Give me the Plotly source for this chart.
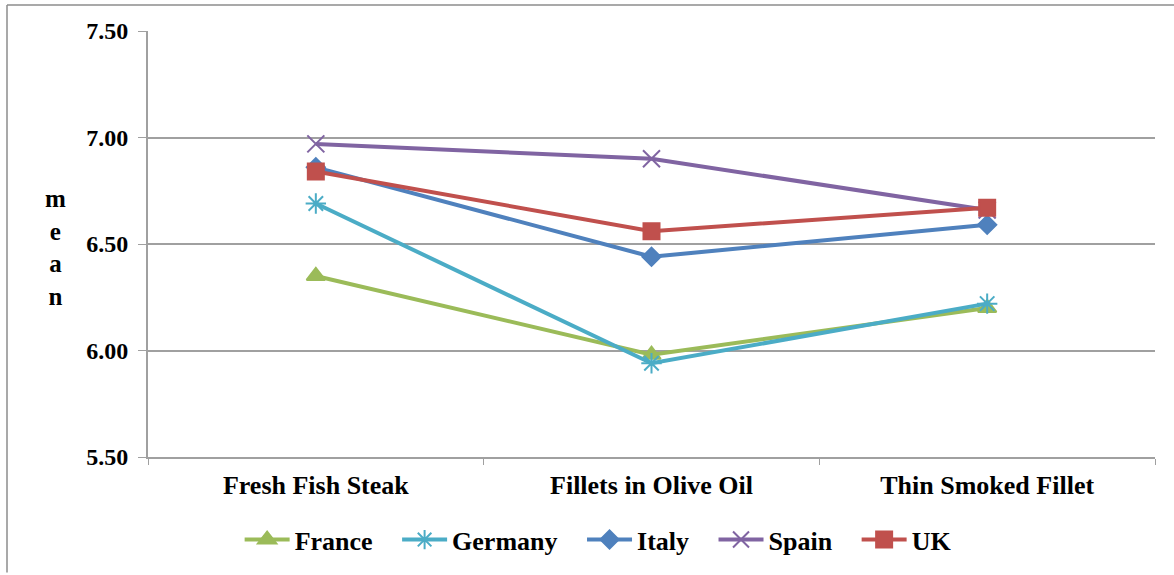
import plotly.graph_objects as go

categories = ["Fresh Fish Steak", "Fillets in Olive Oil", "Thin Smoked Fillet"]
countries = ["France", "Germany", "Italy", "Spain", "UK"]
france = [6.35, 5.98, 6.20]
germany = [6.69, 5.94, 6.22]
italy = [6.86, 6.44, 6.59]
spain = [6.97, 6.90, 6.66]
uk = [6.84, 6.56, 6.67]
y_ticks = [5.5, 6.0, 6.5, 7.0, 7.5]

series = [france, germany, italy, spain, uk]
colors = ["#9BBB59", "#4BACC6", "#4F81BD", "#8064A2", "#C0504D"]
symbols = ["triangle-up", "asterisk-open", "diamond", "x-thin-open", "square"]
sizes = [16, 17, 14, 17, 16]

FONT = "Times New Roman, Liberation Serif, DejaVu Serif, serif"
PAD = "\u00a0\u00a0\u00a0"  # extra spacing between legend entries

fig = go.Figure()
for i, (name, vals, c, s, sz) in enumerate(zip(countries, series, colors, symbols, sizes)):
    label = name + (PAD if i < len(countries) - 1 else "")
    fig.add_trace(go.Scatter(
        x=categories, y=vals, name=label, mode="lines+markers",
        line=dict(color=c, width=4),
        marker=dict(symbol=s, size=sz, color=c, line=dict(color=c, width=2)),
    ))

fig.update_layout(
    width=1174, height=575,
    margin=dict(l=148, r=19, t=31, b=116),
    paper_bgcolor="white", plot_bgcolor="white",
    font=dict(family=FONT, size=24, color="black"),
    showlegend=True,
    legend=dict(orientation="h", x=0.447, xanchor="center", y=-0.194, yanchor="middle",
                font=dict(family=FONT, size=26, color="black", weight="bold"),
                itemwidth=45, tracegroupgap=0),
    xaxis=dict(type="category", tickson="boundaries", ticks="outside", ticklen=6,
               tickcolor="#A0A0A0", showgrid=False, showline=True, linecolor="#A0A0A0",
               linewidth=2, range=[-0.5, 2.5], ticklabelstandoff=4,
               tickfont=dict(family=FONT, size=26, weight="bold", color="black")),
    yaxis=dict(range=[5.5, 7.5], tickvals=y_ticks, tickformat=".2f", ticks="outside",
               ticklen=8, tickcolor="#A0A0A0", showgrid=True, gridcolor="#A0A0A0",
               gridwidth=1.5, showline=True, linecolor="#A0A0A0", linewidth=2,
               zeroline=False, ticklabelstandoff=5,
               tickfont=dict(family=FONT, size=24, weight="bold", color="black")),
)

# vertical stacked axis title
fig.add_annotation(text="m<br>e<br>a<br>n", xref="paper", yref="paper",
                   x=(55 - 148) / 1007, y=(459 - 249) / 428, xanchor="center", yanchor="middle",
                   showarrow=False, align="center",
                   font=dict(family=FONT, size=25, weight="bold", color="black"))

# outer frame edges
fig.add_shape(type="line", xref="paper", yref="paper",
              x0=(7 - 148) / 1007, x1=(7 - 148) / 1007, y0=(459 - 5) / 428, y1=(459 - 575) / 428,
              line=dict(color="#8C8C8C", width=1.5))
fig.add_shape(type="line", xref="paper", yref="paper",
              x0=(7 - 148) / 1007, x1=(1174 - 148) / 1007, y0=(459 - 5) / 428, y1=(459 - 5) / 428,
              line=dict(color="#8C8C8C", width=1.5))

fig.write_html("out.html")
